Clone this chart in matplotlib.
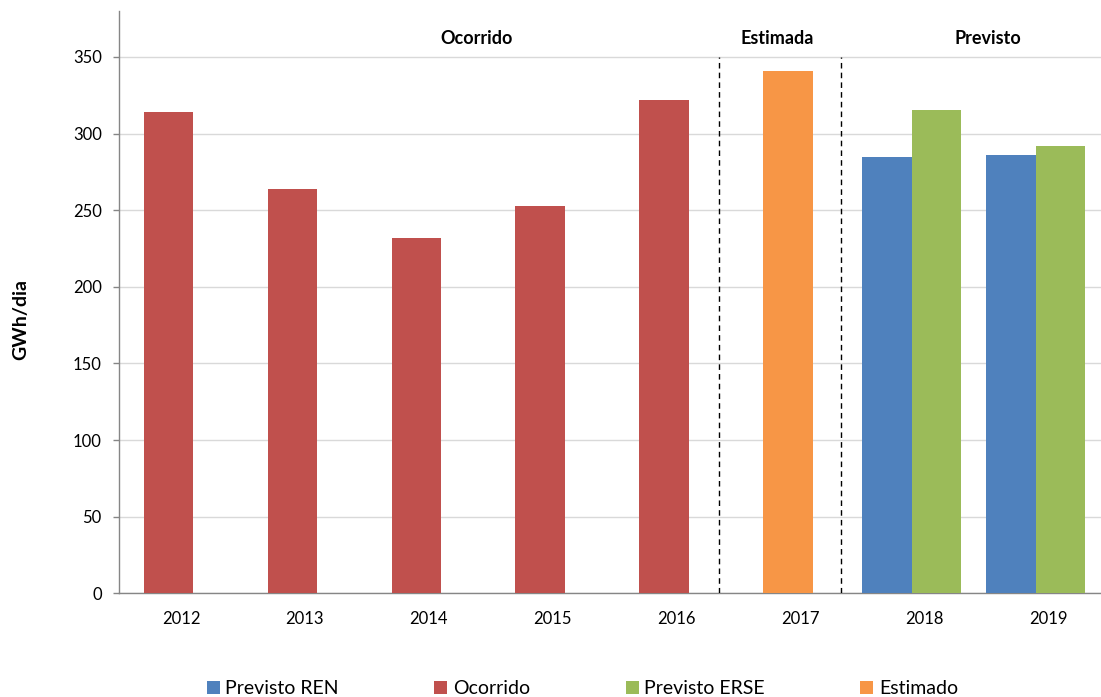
import matplotlib.pyplot as plt
import numpy as np

plt.rcParams['font.family'] = ['Lato', 'DejaVu Sans']

# Data
years = ['2012', '2013', '2014', '2015', '2016', '2017', '2018', '2019']
ocorrido = [313.8, 263.8, 231.9, 252.8, 322.2, np.nan, np.nan, np.nan]
estimado = [np.nan, np.nan, np.nan, np.nan, np.nan, 340.7, np.nan, np.nan]
previsto_ren = [np.nan] * 6 + [284.8, 285.9]
previsto_erse = [np.nan] * 6 + [315.3, 292.2]

sections = ['Ocorrido', 'Estimada', 'Previsto']

blue, red, green, orange = '#4F81BD', '#C0504D', '#9BBB59', '#F79646'

fig = plt.figure(figsize=(11.01, 6.97), dpi=100)
ax = fig.add_axes([0.1081, 0.1488, 0.9001, 0.8354])

x = np.arange(len(years))
w = 0.4
b1 = ax.bar(x - 0.3, previsto_ren, w, color=blue, label='Previsto REN', zorder=3)
b2 = ax.bar(x - 0.1, ocorrido, w, color=red, label='Ocorrido', zorder=3)
b3 = ax.bar(x + 0.1, previsto_erse, w, color=green, label='Previsto ERSE', zorder=3)
b4 = ax.bar(x - 0.1, estimado, w, color=orange, label='Estimado', zorder=3)

ax.set_xlim(-0.5, len(years) - 0.5)
ax.set_ylim(0, 380)
ax.set_yticks(np.arange(0, 351, 50))
ax.set_xticks(x)
ax.set_xticklabels(years)
ax.tick_params(axis='x', length=0, pad=13, labelsize=12, colors='#000000')
ax.tick_params(axis='y', length=4.5, width=1, color='#868686', pad=8, labelsize=12)
ax.grid(axis='y', color='#d9d9d9', linewidth=1, zorder=0)

for s in ['top', 'right']:
    ax.spines[s].set_visible(False)
for s in ['left', 'bottom']:
    ax.spines[s].set_color('#868686')
    ax.spines[s].set_linewidth(1)

# separators between periods
for xv in [4.344, 5.326]:
    ax.plot([xv, xv], [0, 350], color='black', linestyle=(0, (4, 3)), linewidth=1, zorder=4)

# section titles
for label, xv in zip(sections, [2.39, 4.816, 6.516]):
    ax.text(xv, 362, label, ha='center', va='center', fontsize=13, fontweight='bold')

fig.text(21 / 1101, 1 - 320 / 697, 'GWh/dia', rotation=90, ha='center', va='center',
         fontsize=14, fontweight='bold')

fig.legend(handles=[b1, b2, b3, b4], loc='center', bbox_to_anchor=(0.529, 0.012),
           ncol=4, frameon=False, fontsize=14, handlelength=0.67, handleheight=0.67,
           handletextpad=0.3, columnspacing=4.9)

fig.savefig('out.png', dpi=100)
